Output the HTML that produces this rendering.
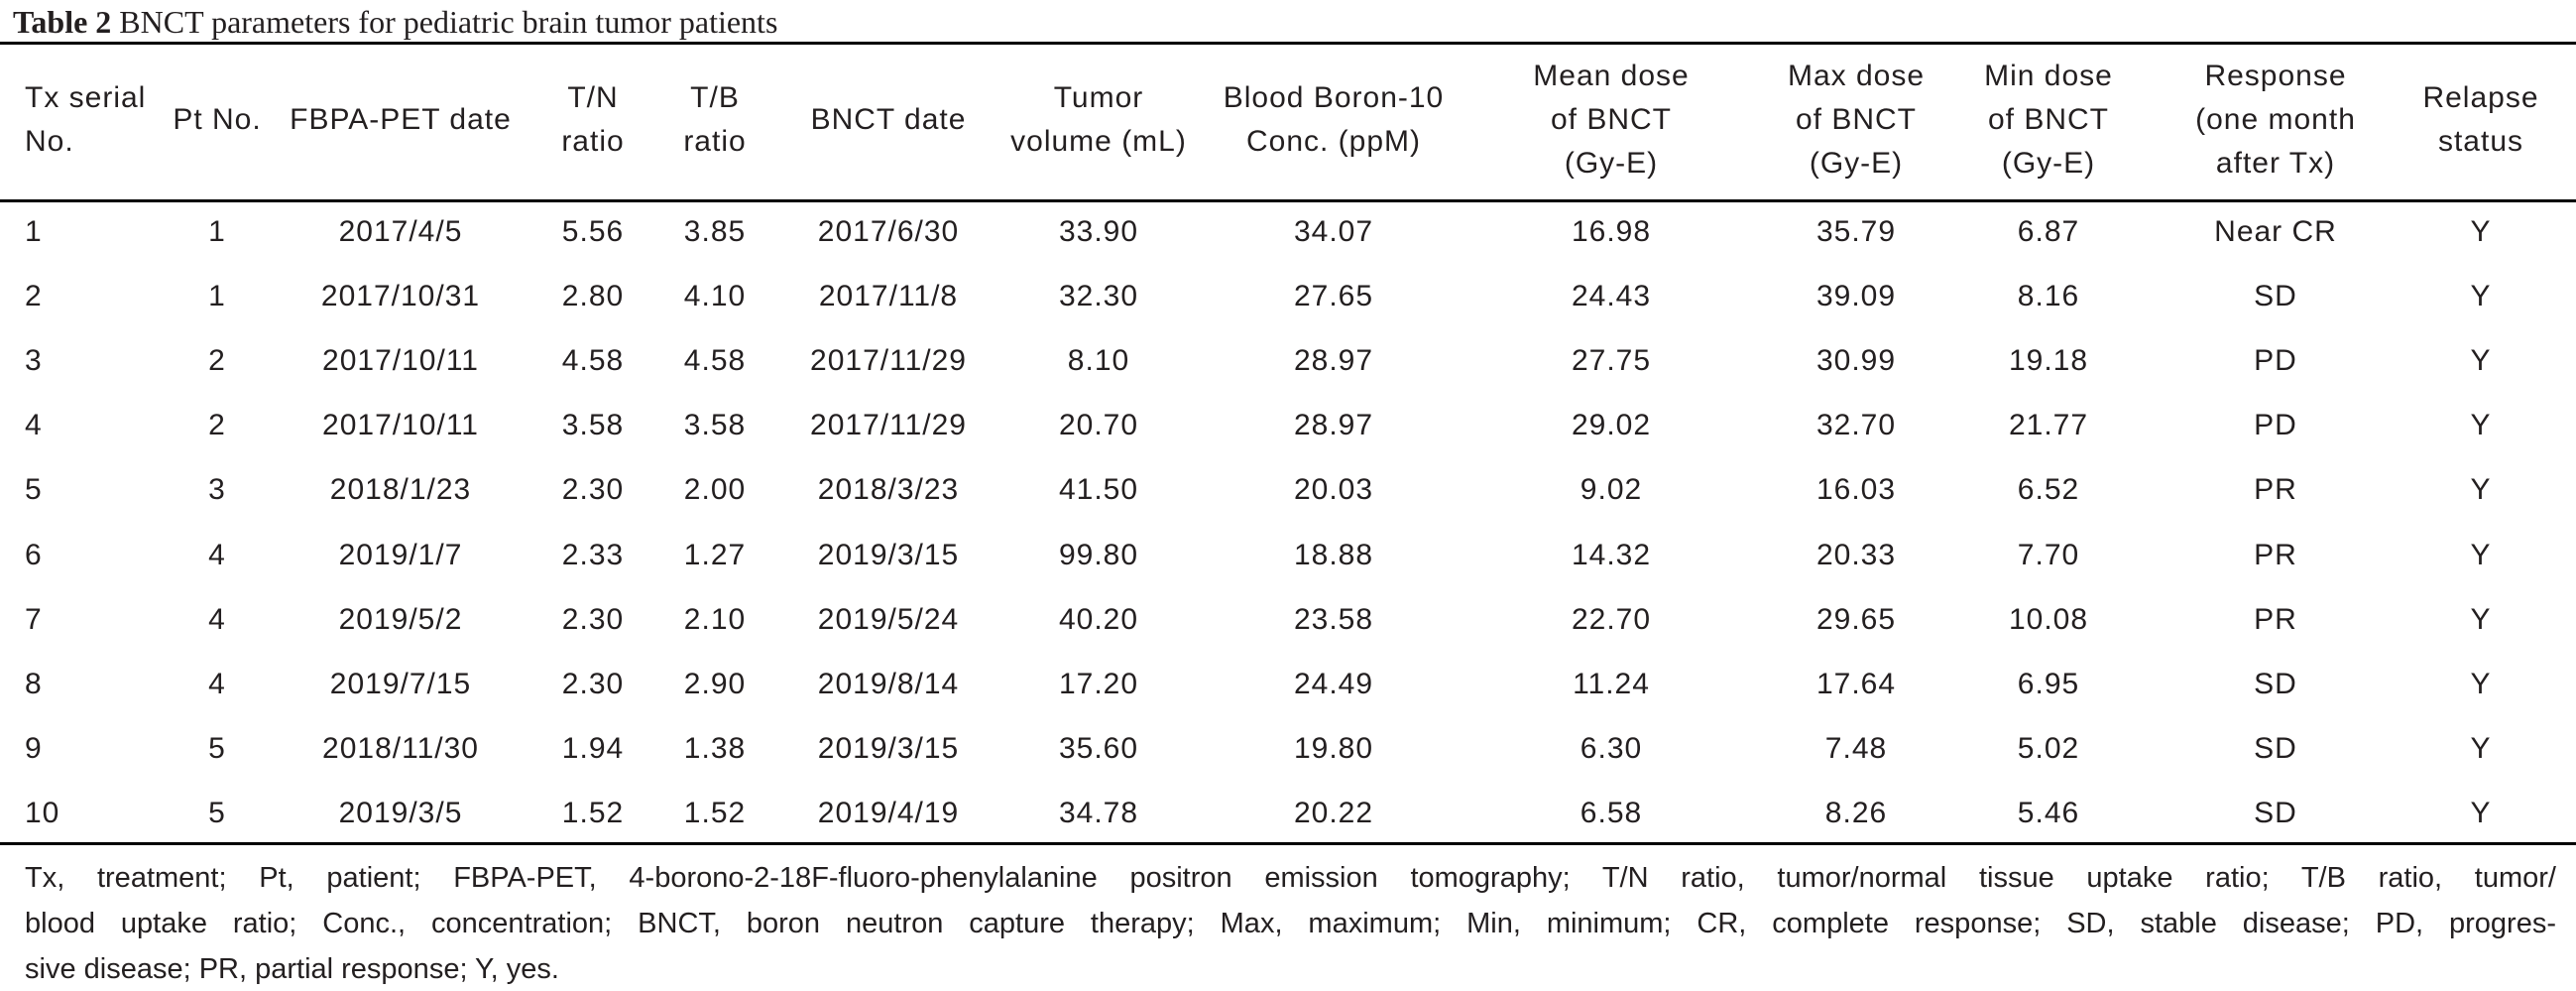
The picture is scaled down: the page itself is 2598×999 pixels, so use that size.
<!DOCTYPE html>
<html><head><meta charset="utf-8">
<style>
html,body{margin:0;padding:0;background:#fff;}
body{width:2598px;height:992px;position:relative;overflow:hidden;color:#231f20;}
.t{position:absolute;font-family:"Liberation Sans",Arial,sans-serif;font-size:30px;letter-spacing:1px;white-space:nowrap;line-height:44px;}
.c{transform:translateX(-50%);text-align:center;}
.rule{position:absolute;left:0;width:2598px;background:#000;}
.title{position:absolute;left:13px;top:2px;font-family:"Liberation Serif",serif;font-size:32px;line-height:40px;white-space:nowrap;}
.fn{position:absolute;left:25px;width:2553px;font-family:"Liberation Sans",Arial,sans-serif;font-size:29px;letter-spacing:0px;line-height:44px;white-space:nowrap;}
.j{text-align:justify;text-align-last:justify;white-space:normal;height:44px;overflow:hidden;}
</style></head><body>
<div class="title"><b>Table 2</b> BNCT parameters for pediatric brain tumor patients</div>
<div class="rule" style="top:42px;height:3px"></div>
<div class="rule" style="top:201px;height:3px"></div>
<div class="rule" style="top:849px;height:3px"></div>

<div>
<div class="t" style="left:25px;top:77px">Tx serial<br>No.</div>
<div class="t c" style="left:219px;top:99px">Pt No.</div>
<div class="t c" style="left:404px;top:99px">FBPA-PET date</div>
<div class="t c" style="left:598px;top:77px">T/N<br>ratio</div>
<div class="t c" style="left:721px;top:77px">T/B<br>ratio</div>
<div class="t c" style="left:896px;top:99px">BNCT date</div>
<div class="t c" style="left:1108px;top:77px">Tumor<br>volume (mL)</div>
<div class="t c" style="left:1345px;top:77px">Blood Boron-10<br>Conc. (ppM)</div>
<div class="t c" style="left:1625px;top:55px">Mean dose<br>of BNCT<br>(Gy-E)</div>
<div class="t c" style="left:1872px;top:55px">Max dose<br>of BNCT<br>(Gy-E)</div>
<div class="t c" style="left:2066px;top:55px">Min dose<br>of BNCT<br>(Gy-E)</div>
<div class="t c" style="left:2295px;top:55px">Response<br>(one month<br>after Tx)</div>
<div class="t c" style="left:2502px;top:77px">Relapse<br>status</div>
</div>

<div id="body"></div>

<div class="fn j" style="top:863px">Tx, treatment; Pt, patient; FBPA-PET, 4-borono-2-18F-fluoro-phenylalanine positron emission tomography; T/N ratio, tumor/normal tissue uptake ratio; T/B ratio, tumor/</div>
<div class="fn j" style="top:909px">blood uptake ratio; Conc., concentration; BNCT, boron neutron capture therapy; Max, maximum; Min, minimum; CR, complete response; SD, stable disease; PD, progres-</div>
<div class="fn" style="top:955px">sive disease; PR, partial response; Y, yes.</div>

<script>
const rows = [
["1","1","2017/4/5","5.56","3.85","2017/6/30","33.90","34.07","16.98","35.79","6.87","Near CR","Y"],
["2","1","2017/10/31","2.80","4.10","2017/11/8","32.30","27.65","24.43","39.09","8.16","SD","Y"],
["3","2","2017/10/11","4.58","4.58","2017/11/29","8.10","28.97","27.75","30.99","19.18","PD","Y"],
["4","2","2017/10/11","3.58","3.58","2017/11/29","20.70","28.97","29.02","32.70","21.77","PD","Y"],
["5","3","2018/1/23","2.30","2.00","2018/3/23","41.50","20.03","9.02","16.03","6.52","PR","Y"],
["6","4","2019/1/7","2.33","1.27","2019/3/15","99.80","18.88","14.32","20.33","7.70","PR","Y"],
["7","4","2019/5/2","2.30","2.10","2019/5/24","40.20","23.58","22.70","29.65","10.08","PR","Y"],
["8","4","2019/7/15","2.30","2.90","2019/8/14","17.20","24.49","11.24","17.64","6.95","SD","Y"],
["9","5","2018/11/30","1.94","1.38","2019/3/15","35.60","19.80","6.30","7.48","5.02","SD","Y"],
["10","5","2019/3/5","1.52","1.52","2019/4/19","34.78","20.22","6.58","8.26","5.46","SD","Y"]
];
const colNames = ["tx","pt","fbpa-date","tn","tb","bnct-date","volume","boron","mean","max","min","response","relapse"];
const colX = [25,219,404,598,721,896,1108,1345,1625,1872,2066,2295,2502];
const body = document.getElementById('body');
rows.forEach((r,i)=>{
  const cy = 234 + i*65.1;
  r.forEach((v,j)=>{
    const d = document.createElement('div');
    d.className = 't' + (j>0?' c':'');
    d.style.left = colX[j]+'px';
    d.style.top = (cy-22)+'px';
    d.textContent = v;
    
    
    body.appendChild(d);
  });
});
</script>
</body></html>
